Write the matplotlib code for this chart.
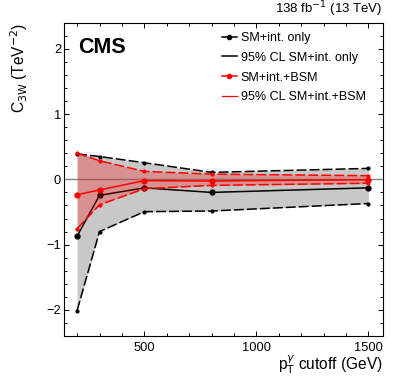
import matplotlib
matplotlib.use("Agg")
import matplotlib.pyplot as plt
from matplotlib.lines import Line2D
from matplotlib.ticker import MultipleLocator

plt.rcParams["font.family"] = ["Liberation Sans", "DejaVu Sans"]

# pT cutoff values (GeV)
cutoff = [200, 300, 500, 800, 1500]

# SM + interference only
sm_int = [-0.87, -0.245, -0.13, -0.20, -0.13]
sm_int_up = [0.39, 0.35, 0.255, 0.107, 0.168]
sm_int_lo = [-2.01, -0.80, -0.495, -0.485, -0.37]

# SM + interference + BSM
bsm = [-0.235, -0.163, -0.02, -0.025, -0.005]
bsm_up = [0.40, 0.285, 0.122, 0.08, 0.056]
bsm_lo = [-0.755, -0.39, -0.143, -0.092, -0.06]

legend_labels = ["SM+int. only", "95% CL SM+int. only",
                 "SM+int.+BSM", "95% CL SM+int.+BSM"]

fig = plt.figure(figsize=(3.99, 3.83), dpi=100)
ax = fig.add_axes([0.1604, 0.1227, 0.7987, 0.818])

DASH = (6.5, 2.0)
ax.fill_between(cutoff, sm_int_lo, sm_int_up, color="#c8c8c8", lw=0, zorder=1)
ax.axhline(0, color="#808080", lw=1.0, zorder=2)
for y in (sm_int_up, sm_int_lo):
    ax.plot(cutoff, y, color="black", lw=1.1, dashes=DASH, marker="o",
            ms=2.0, zorder=3)
ax.plot(cutoff, sm_int, color="black", lw=1.1, marker="o", ms=3.5, zorder=3)
ax.fill_between(cutoff, bsm_lo, bsm_up, color="red", alpha=0.27, lw=0, zorder=4)
for y in (bsm_up, bsm_lo):
    ax.plot(cutoff, y, color="red", lw=1.1, dashes=DASH, marker="o",
            ms=2.0, zorder=5)
ax.plot(cutoff, bsm, color="red", lw=1.1, marker="o", ms=3.5, zorder=5)

ax.set_xlim(141.5, 1564)
ax.set_ylim(-2.4, 2.4)
ax.xaxis.set_major_locator(MultipleLocator(500))
ax.xaxis.set_minor_locator(MultipleLocator(100))
ax.yaxis.set_major_locator(MultipleLocator(1))
ax.yaxis.set_minor_locator(MultipleLocator(0.2))
ax.tick_params(which="both", direction="in", top=True, right=True,
               labelsize=9.3, width=0.7)
ax.tick_params(axis="x", pad=4)
ax.tick_params(axis="y", pad=2)
ax.tick_params(which="major", length=3.8)
ax.tick_params(which="minor", length=2.0)
ax.set_yticks([-2, -1, 0, 1, 2])
ax.set_yticklabels(["\u22122", "\u22121", "0", "1", "2"])
for s in ax.spines.values():
    s.set_linewidth(0.8)

ax.set_xlabel(r"p$_{\mathrm{T}}^{\gamma}$ cutoff (GeV)", loc="right",
              fontsize=11.2, labelpad=0)
ax.set_ylabel(r"C$_{\mathrm{3W}}$ (TeV$^{-2}$)", loc="top", fontsize=11.2,
              labelpad=12)

ax.text(0.044, 0.921, "CMS", transform=ax.transAxes, fontsize=15.5,
        fontweight="bold", va="center", ha="left")
ax.text(1.0, 1.012, r"138 fb$^{-1}$ (13 TeV)", transform=ax.transAxes,
        fontsize=9.5, ha="right", va="bottom")

handles = [
    Line2D([], [], color="black", lw=1.1, marker="o", ms=3),
    Line2D([], [], color="black", lw=1.1),
    Line2D([], [], color="red", lw=1.1, marker="o", ms=3),
    Line2D([], [], color="red", lw=0.9),
]
ax.legend(handles, legend_labels, loc="upper left",
          bbox_to_anchor=(0.48, 0.986), frameon=False, fontsize=9,
          handlelength=1.2, handletextpad=0.3, labelspacing=0.62,
          borderaxespad=0)

fig.savefig("out.png", dpi=100)
